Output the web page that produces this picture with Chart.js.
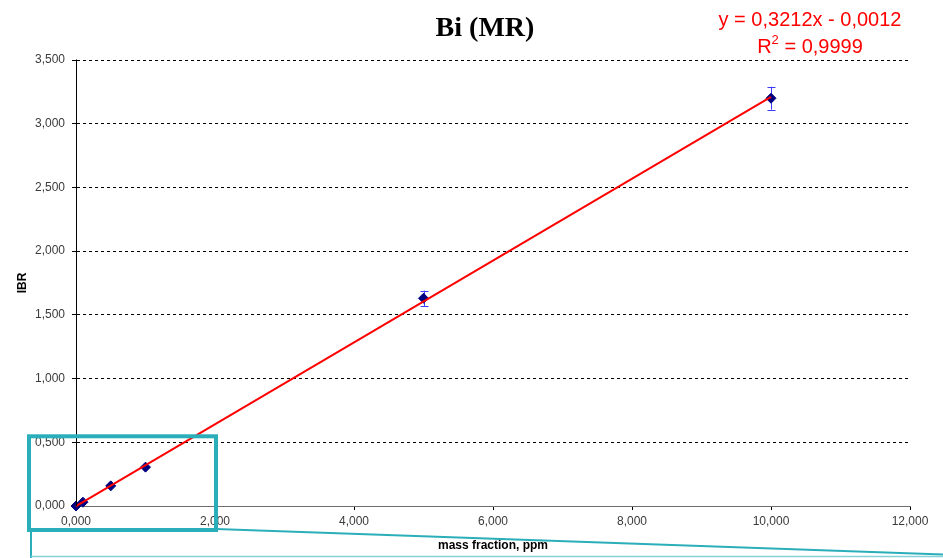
<!DOCTYPE html>
<html>
<head>
<meta charset="utf-8">
<title>Bi (MR)</title>
<script src="https://cdn.jsdelivr.net/npm/chart.js@4.4.1/dist/chart.umd.min.js"></script>
<style>
  html, body { margin: 0; padding: 0; background: #ffffff; }
  #wrap { width: 943px; height: 558px; position: relative; }
</style>
</head>
<body>
<div id="wrap"><canvas id="c" width="943" height="558"></canvas></div>
<script>
// Calibration standards: mass fraction (ppm) and measured IBR
const massFraction = [0, 0.1, 0.5, 1, 5, 10];
const ibr = [0, 0.03, 0.158, 0.305, 1.630, 3.200];
const ibrError = [0, 0, 0, 0, 0.06, 0.09];

// Linear fit reported on the chart
const fitSlope = 0.3212;
const fitIntercept = -0.0012;
const fitRange = [0, 10];
const fitLabel = 'y = 0,3212x - 0,0012';
const r2Label = '0,9999';

// Axis ticks
const xTicks = [0, 2, 4, 6, 8, 10, 12];
const yTicks = [0, 0.5, 1, 1.5, 2, 2.5, 3, 3.5];

// Zoomed region highlighted in the lower-left corner
const zoomRegionX = [0, 2];
const zoomRegionY = [0, 0.5];

const fmt = v => Number(v).toFixed(3).replace('.', ',');

const points = massFraction.map((x, i) => ({ x, y: ibr[i] }));
const fitLine = fitRange.map(x => ({ x, y: fitSlope * x + fitIntercept }));

const TEAL = '#2aaeb9';

// Vertical error bars with caps
const errorBars = {
  id: 'errorBars',
  beforeDatasetsDraw(chart) {
    const { ctx, scales: { x, y } } = chart;
    ctx.save();
    ctx.strokeStyle = '#3b3bff';
    ctx.lineWidth = 1;
    massFraction.forEach((mx, i) => {
      const e = ibrError[i];
      if (!e) return;
      const px = Math.round(x.getPixelForValue(mx)) + 0.5;
      const top = y.getPixelForValue(ibr[i] + e);
      const bot = y.getPixelForValue(ibr[i] - e);
      ctx.beginPath();
      ctx.moveTo(px, top); ctx.lineTo(px, bot);
      ctx.moveTo(px - 4, Math.round(top) + 0.5); ctx.lineTo(px + 4, Math.round(top) + 0.5);
      ctx.moveTo(px - 4, Math.round(bot) + 0.5); ctx.lineTo(px + 4, Math.round(bot) + 0.5);
      ctx.stroke();
    });
    ctx.restore();
  }
};

// Solid left axis line, drawn over the dashed grid settings
const leftAxis = {
  id: 'leftAxis',
  afterDraw(chart) {
    const { ctx, chartArea: a } = chart;
    ctx.save();
    ctx.strokeStyle = '#000000';
    ctx.lineWidth = 1;
    ctx.setLineDash([]);
    ctx.beginPath();
    ctx.moveTo(Math.round(a.left) + 0.5, a.top - 0.5);
    ctx.lineTo(Math.round(a.left) + 0.5, a.bottom);
    ctx.stroke();
    ctx.restore();
  }
};

// Title and regression equation
const headings = {
  id: 'headings',
  afterDraw(chart) {
    const { ctx } = chart;
    ctx.save();
    ctx.textAlign = 'center';
    ctx.textBaseline = 'alphabetic';
    ctx.fillStyle = '#000000';
    ctx.font = 'bold 28px "Liberation Serif", "Times New Roman", serif';
    ctx.fillText('Bi (MR)', 485, 36);

    ctx.fillStyle = '#ff0000';
    ctx.font = '20px "Liberation Sans", Arial, sans-serif';
    ctx.fillText(fitLabel, 810, 26);
    // R² line with raised 2
    const base = 'R';
    const rest = ' = ' + r2Label;
    const wR = ctx.measureText(base).width;
    ctx.font = '13px "Liberation Sans", Arial, sans-serif';
    const wS = ctx.measureText('2').width;
    ctx.font = '20px "Liberation Sans", Arial, sans-serif';
    const wRest = ctx.measureText(rest).width;
    const total = wR + wS + wRest;
    const sx = 810 - total / 2;
    ctx.textAlign = 'left';
    ctx.fillText(base, sx, 53);
    ctx.font = '13px "Liberation Sans", Arial, sans-serif';
    ctx.fillText('2', sx + wR, 44);
    ctx.font = '20px "Liberation Sans", Arial, sans-serif';
    ctx.fillText(rest, sx + wR + wS, 53);
    ctx.restore();
  }
};

// Callout frame around the low-concentration region
const callout = {
  id: 'callout',
  afterDraw(chart) {
    const { ctx, scales: { x, y } } = chart;
    const left = x.getPixelForValue(zoomRegionX[0]) - 47;
    const right = x.getPixelForValue(zoomRegionX[1]) + 1;
    const top = y.getPixelForValue(zoomRegionY[1]) - 6;
    const bottom = y.getPixelForValue(zoomRegionY[0]) + 24;
    ctx.save();
    ctx.setLineDash([]);
    ctx.strokeStyle = TEAL;
    ctx.lineWidth = 4;
    ctx.strokeRect(left, top, right - left, bottom - top);
    ctx.lineWidth = 2;
    ctx.beginPath();
    ctx.moveTo(left + 2, bottom);
    ctx.lineTo(left + 2, chart.height);
    ctx.moveTo(right, bottom - 1);
    ctx.lineTo(chart.width, bottom + 24.5);
    ctx.stroke();
    ctx.strokeStyle = '#86d2d8';
    ctx.lineWidth = 1.5;
    ctx.beginPath();
    ctx.moveTo(left + 2, chart.height - 1.5);
    ctx.lineTo(chart.width, chart.height - 1.5);
    ctx.stroke();
    ctx.restore();
  }
};

const tickFont = { family: '"Liberation Sans", Arial, sans-serif', size: 12 };

new Chart(document.getElementById('c'), {
  type: 'scatter',
  data: {
    datasets: [
      {
        label: 'fit',
        data: fitLine,
        showLine: true,
        borderColor: '#ff0000',
        borderWidth: 2,
        pointRadius: 0,
        fill: false,
        clip: false
      },
      {
        label: 'Bi',
        data: points,
        pointStyle: 'rectRot',
        pointRadius: 5,
        backgroundColor: '#00007f',
        borderColor: '#00007f',
        borderWidth: 1,
        showLine: false,
        clip: false
      }
    ]
  },
  options: {
    responsive: false,
    animation: false,
    events: [],
    layout: { padding: { top: 60, right: 33, left: 0, bottom: 0 } },
    plugins: {
      legend: { display: false },
      tooltip: { enabled: false },
      title: { display: false }
    },
    scales: {
      x: {
        type: 'linear',
        min: 0,
        max: 12,
        afterBuildTicks(scale) { scale.ticks = xTicks.map(v => ({ value: v })); },
        afterFit(scale) { scale.height = 52; },
        ticks: {
          font: tickFont,
          color: '#3a3a3a',
          padding: 4,
          maxRotation: 0,
          callback: v => fmt(v)
        },
        grid: {
          drawOnChartArea: false,
          drawTicks: true,
          tickLength: 4,
          tickColor: '#000000'
        },
        border: { display: true, color: '#6e6e6e', width: 1 },
        title: {
          display: true,
          text: 'mass fraction, ppm',
          color: '#000000',
          font: { family: '"Liberation Sans", Arial, sans-serif', size: 12, weight: 'bold' },
          padding: { top: 0, bottom: 5 }
        }
      },
      y: {
        type: 'linear',
        min: 0,
        max: 3.5,
        afterBuildTicks(scale) { scale.ticks = yTicks.map(v => ({ value: v })); },
        afterFit(scale) { scale.width = 76; },
        ticks: {
          font: tickFont,
          color: '#3a3a3a',
          padding: 7,
          callback: v => fmt(v)
        },
        grid: {
          drawOnChartArea: true,
          drawTicks: true,
          tickLength: 4,
          color: ctx => (ctx.tick && ctx.tick.value === 0) ? 'rgba(0,0,0,0)' : '#000000',
          tickColor: '#000000',
          lineWidth: 1,
          tickBorderDash: []
        },
        border: { display: true, color: '#000000', width: 1, dash: [3, 3] },
        title: {
          display: true,
          text: 'IBR',
          color: '#000000',
          font: { family: '"Liberation Sans", Arial, sans-serif', size: 12, weight: 'bold' },
          padding: { top: 15, bottom: 0 }
        }
      }
    }
  },
  plugins: [errorBars, leftAxis, headings, callout]
});
</script>
</body>
</html>
